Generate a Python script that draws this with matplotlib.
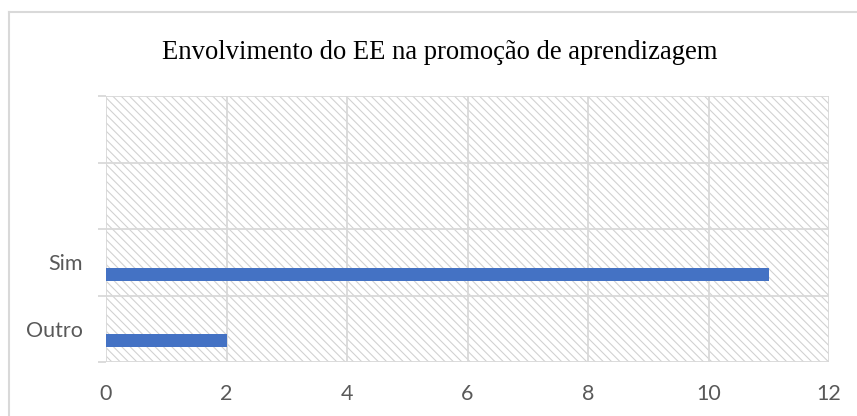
import numpy as np
import matplotlib.pyplot as plt
from matplotlib.patches import Rectangle
from matplotlib.lines import Line2D

# data
categories = ['Outro', 'Sim', '', '']
values = [2, 11, 0, 0]
x_ticks = [0, 2, 4, 6, 8, 10, 12]
title = 'Envolvimento do EE na promoção de aprendizagem'

grid_col = '#D9D9D9'
text_col = '#595959'
bar_col = '#4472C4'

plt.rcParams['hatch.linewidth'] = 0.8

fig = plt.figure(figsize=(8.57, 4.16), dpi=100)
ax = fig.add_axes([106 / 857, 1 - 362 / 416, (829 - 106) / 857, (362 - 96) / 416])

y = np.arange(len(categories))
ax.barh(y - 0.18, values, height=0.195, color=bar_col, zorder=3)

# hatched background
bg = Rectangle((0, 0), 1, 1, transform=ax.transAxes, facecolor='white',
               edgecolor='#D2D2D2', linewidth=0, hatch='\\\\\\\\', zorder=0)
ax.add_patch(bg)
ax.patch.set_visible(False)

ax.set_xlim(0, 12)
ax.set_ylim(-0.5, len(categories) - 0.5)
ax.set_xticks(x_ticks)
ax.set_yticks(y)
ax.set_yticklabels(categories)
ax.set_yticks(np.arange(len(categories) + 1) - 0.5, minor=True)

for s in ax.spines.values():
    s.set_visible(False)

ax.grid(axis='x', color=grid_col, linewidth=1.3, zorder=1)
ax.grid(axis='y', which='minor', color=grid_col, linewidth=1.3, zorder=1)
ax.set_axisbelow(True)

ax.tick_params(axis='x', length=0, pad=16, labelsize=15.5, labelcolor=text_col)
ax.tick_params(axis='y', which='major', length=0, pad=16.5, labelsize=15.5, labelcolor=text_col)
ax.tick_params(axis='y', which='minor', length=5.8, width=1.3, color=grid_col, direction='out')
for lbl in ax.get_xticklabels() + ax.get_yticklabels():
    lbl.set_fontfamily('Lato')

fig.text(440 / 857, 1 - 59 / 416, title, ha='center', va='baseline',
         fontsize=19.2, family='Liberation Serif', color='black')

# outer chart border (top and left visible)
fig.add_artist(Line2D([9 / 857, 1], [1 - 12 / 416, 1 - 12 / 416], color=grid_col, linewidth=1.5))
fig.add_artist(Line2D([9 / 857, 9 / 857], [0, 1 - 12 / 416], color=grid_col, linewidth=1.5))

fig.savefig('out.png', dpi=100)
